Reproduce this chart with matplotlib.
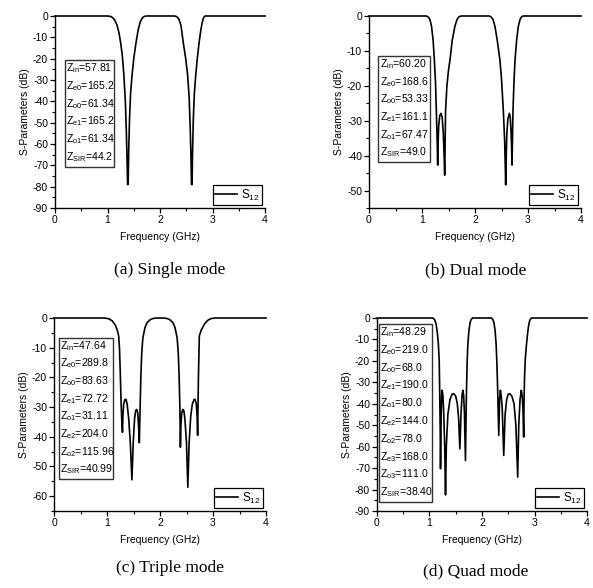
import matplotlib
matplotlib.use('Agg')
import matplotlib.pyplot as plt
from matplotlib.patches import Rectangle
from matplotlib.ticker import MultipleLocator

plt.rcParams['font.family'] = ['Liberation Sans', 'DejaVu Sans']
plt.rcParams['mathtext.fontset'] = 'custom'
plt.rcParams['mathtext.rm'] = 'Liberation Sans'
plt.rcParams['mathtext.it'] = 'Liberation Sans'
plt.rcParams['axes.unicode_minus'] = False

# (a) single mode
freq_a = [0, 1.00, 1.06, 1.10, 1.14, 1.18, 1.22, 1.25, 1.28, 1.31, 1.34, 1.36, 1.375,
          1.383, 1.393, 1.405, 1.42, 1.44, 1.467, 1.50, 1.54, 1.58, 1.62, 1.66, 1.70,
          1.74, 2.28, 2.32, 2.36, 2.40, 2.445, 2.49, 2.527, 2.555, 2.575, 2.59, 2.60,
          2.61, 2.62, 2.635, 2.655, 2.68, 2.71, 2.743, 2.775, 2.80, 2.82, 2.84, 2.86, 4.0]
s12_a = [0, 0, -0.2, -0.8, -2, -4.2, -8, -12.5, -18, -27, -40, -55, -70,
         -79, -79, -62, -48, -36, -28, -20, -13, -7, -3, -1, -0.2,
         0, 0, -0.3, -1.5, -4.5, -12.8, -20, -28, -38, -52, -66, -79,
         -79, -64, -48, -36, -28, -20, -12.8, -7, -3.5, -1.5, -0.4, 0, 0]

# (b) dual mode
freq_b = [0, 1.08, 1.12, 1.15, 1.18, 1.21, 1.233, 1.255, 1.27, 1.285, 1.296, 1.30,
          1.315, 1.335, 1.358, 1.38, 1.40, 1.415, 1.428, 1.445, 1.47, 1.50, 1.528,
          1.57, 1.62, 1.66, 1.70, 1.74, 2.26, 2.30, 2.34, 2.377, 2.42, 2.47, 2.50,
          2.534, 2.56, 2.579, 2.59, 2.60, 2.62, 2.648, 2.665, 2.68, 2.69, 2.698,
          2.717, 2.735, 2.755, 2.785, 2.817, 2.85, 2.88, 2.91, 4.0]
s12_b = [0, 0, -0.3, -1, -3, -7, -12.6, -19, -26.9, -35, -42.7, -38,
         -31.5, -28.5, -27.9, -29, -33, -39, -45.6, -27, -20, -15.5, -12.6,
         -7, -3, -1, -0.2, 0, 0, -0.2, -1, -3, -7, -12.6, -18,
         -26.9, -36, -48.4, -40, -34, -29.5, -27.9, -29, -33, -37, -42.7,
         -26.9, -19, -12.6, -7, -3, -1, -0.2, 0, 0]

# (c) triple mode
freq_c = [0, 0.96, 1.04, 1.10, 1.16, 1.20, 1.22, 1.235, 1.25, 1.265, 1.28, 1.292,
          1.30, 1.315, 1.335, 1.358, 1.38, 1.41, 1.44, 1.47, 1.495, 1.52, 1.54,
          1.56, 1.58, 1.595, 1.61, 1.625, 1.64, 1.655, 1.675, 1.69, 1.72, 1.76,
          1.82, 1.88, 1.95, 2.05, 2.12, 2.18, 2.24, 2.28, 2.31, 2.325, 2.345,
          2.36, 2.375, 2.385, 2.395, 2.41, 2.43, 2.45, 2.47, 2.50, 2.525, 2.55,
          2.58, 2.61, 2.645, 2.665, 2.685, 2.70, 2.71, 2.725, 2.742, 2.78, 2.84,
          2.90, 2.96, 3.04, 4.0]
s12_c = [0, 0, -0.3, -1, -2.5, -4.5, -6, -10, -18, -28, -35, -38.5,
         -33, -29, -27.5, -27.4, -29, -34, -42, -54.5, -42, -34, -31.2,
         -30.8, -32, -36, -42, -30, -19, -12, -7, -5.5, -3, -1.5,
         -0.5, -0.1, 0, 0, -0.1, -0.5, -1.5, -3, -5.5, -7, -12,
         -19, -30, -43.5, -36, -32, -30.8, -31.2, -34, -42, -57, -42,
         -33, -29, -27.4, -27.5, -29, -33, -39.5, -20, -6, -4, -2,
         -0.8, -0.2, 0, 0]

# (d) quad mode
freq_d = [0, 1.06, 1.09, 1.11, 1.13, 1.15, 1.17, 1.185, 1.195, 1.205, 1.21, 1.222,
          1.232, 1.241, 1.255, 1.27, 1.29, 1.305, 1.32, 1.35, 1.39, 1.43, 1.463,
          1.50, 1.53, 1.555, 1.578, 1.60, 1.62, 1.635, 1.65, 1.665, 1.685, 1.70,
          1.715, 1.73, 1.75, 1.77, 1.79, 1.82, 2.18, 2.21, 2.23, 2.25, 2.27,
          2.285, 2.30, 2.319, 2.335, 2.35, 2.365, 2.385, 2.414, 2.44, 2.47, 2.50,
          2.53, 2.57, 2.61, 2.645, 2.68, 2.70, 2.725, 2.749, 2.765, 2.78, 2.794,
          2.80, 2.81, 2.825, 2.845, 2.865, 2.885, 2.905, 2.925, 2.95, 4.0]
s12_d = [0, 0, -0.5, -1.5, -3.5, -7, -12.6, -20, -35, -55, -70.3, -45,
         -36, -33.7, -36, -44, -60, -82.5, -60, -45, -38, -35.5, -35.3,
         -36.5, -40, -47, -61, -45, -36, -33.7, -36, -44, -66.4, -40,
         -22, -12.6, -6, -2.5, -0.8, 0, 0, -0.8, -2.5, -6, -12.6,
         -22, -35, -54.7, -38, -33.7, -36, -42, -64.1, -45, -38, -35.5,
         -35.3, -36.5, -40, -50, -74.2, -50, -38, -33.7, -36, -42, -55.5,
         -40, -28, -19, -13, -8, -4, -1.5, -0.4, 0, 0]

labels_a = ['Z$_{in}$=57.81', 'Z$_{e0}$=165.2', 'Z$_{o0}$=61.34', 'Z$_{e1}$=165.2',
            'Z$_{o1}$=61.34', 'Z$_{SIR}$=44.2']
labels_b = ['Z$_{in}$=60.20', 'Z$_{e0}$=168.6', 'Z$_{o0}$=53.33', 'Z$_{e1}$=161.1',
            'Z$_{o1}$=67.47', 'Z$_{SIR}$=49.0']
labels_c = ['Z$_{in}$=47.64', 'Z$_{e0}$=289.8', 'Z$_{o0}$=83.63', 'Z$_{e1}$=72.72',
            'Z$_{o1}$=31.11', 'Z$_{e2}$=204.0', 'Z$_{o2}$=115.96', 'Z$_{SIR}$=40.99']
labels_d = ['Z$_{in}$=48.29', 'Z$_{e0}$=219.0', 'Z$_{o0}$=68.0', 'Z$_{e1}$=190.0',
            'Z$_{o1}$=80.0', 'Z$_{e2}$=144.0', 'Z$_{o2}$=78.0', 'Z$_{e3}$=168.0',
            'Z$_{o3}$=111.0', 'Z$_{SIR}$=38.40']

captions = ['(a) Single mode', '(b) Dual mode', '(c) Triple mode', '(d) Quad mode']

W, H = 593, 588
fig = plt.figure(figsize=(W / 100, H / 100), dpi=100)


def px_axes(left, top, right, bottom):
    return fig.add_axes([left / W, 1 - bottom / H, (right - left) / W, (bottom - top) / H])


def style(ax, ymin, ymax):
    ax.set_xlim(0, 4)
    ax.set_ylim(ymin, ymax)
    ax.xaxis.set_major_locator(MultipleLocator(1))
    ax.xaxis.set_minor_locator(MultipleLocator(0.5))
    ax.yaxis.set_major_locator(MultipleLocator(10))
    ax.yaxis.set_minor_locator(MultipleLocator(5))
    ax.spines['top'].set_visible(False)
    ax.spines['right'].set_visible(False)
    for s in ('left', 'bottom'):
        ax.spines[s].set_linewidth(1.0)
    ax.tick_params(which='major', direction='out', length=3.5, width=0.9,
                   labelsize=7.5, pad=1.5)
    ax.tick_params(which='minor', direction='out', length=2, width=0.8)
    ax.set_xlabel('Frequency (GHz)', fontsize=7.5, labelpad=5)
    ax.set_ylabel('S-Parameters (dB)', fontsize=7.5, labelpad=2)


def zbox(lines, left, top, right, bottom):
    # framed list of impedances, one text per row
    fig.patches.append(Rectangle((left / W, 1 - bottom / H), (right - left) / W,
                                 (bottom - top) / H, transform=fig.transFigure,
                                 fc='white', ec='#333333', lw=1.0, zorder=5))
    step = (bottom - top) / len(lines)
    for k, s in enumerate(lines):
        fig.text((left + 1.5) / W, 1 - (top + (k + 0.45) * step) / H, s,
                 fontsize=7.6, va='center', ha='left', zorder=6)


panels = [
    (freq_a, s12_a, (55, 16, 265, 208), (-90, 0), labels_a, (65, 60, 114, 167), (170, 270)),
    (freq_b, s12_b, (369, 16, 581, 208), (-55, 0), labels_b, (378, 56, 430, 162), (476, 270)),
    (freq_c, s12_c, (54, 318, 266, 511), (-65, 0), labels_c, (59, 338, 113, 479), (170, 568)),
    (freq_d, s12_d, (377, 318, 587, 511), (-90, 0), labels_d, (379, 324, 432, 502), (476, 571)),
]

for i, (fx, fy, box, ylim, zl, zrect, cpos) in enumerate(panels):
    ax = px_axes(*box)
    ax.plot(fx, fy, color='black', lw=1.2, label='S$_{12}$', clip_on=False)
    style(ax, *ylim)
    zbox(zl, *zrect)
    leg = ax.legend(loc='lower right', fontsize=8.5, handlelength=1.9, handletextpad=0.3,
                    borderpad=0.2, borderaxespad=0.25, fancybox=False, framealpha=1)
    leg.get_frame().set_edgecolor('black')
    leg.get_frame().set_linewidth(0.9)
    fig.text(cpos[0] / W, 1 - cpos[1] / H, captions[i], ha='center', va='center',
             fontsize=12.5, family='Liberation Serif')

fig.savefig('out.png', dpi=100)
